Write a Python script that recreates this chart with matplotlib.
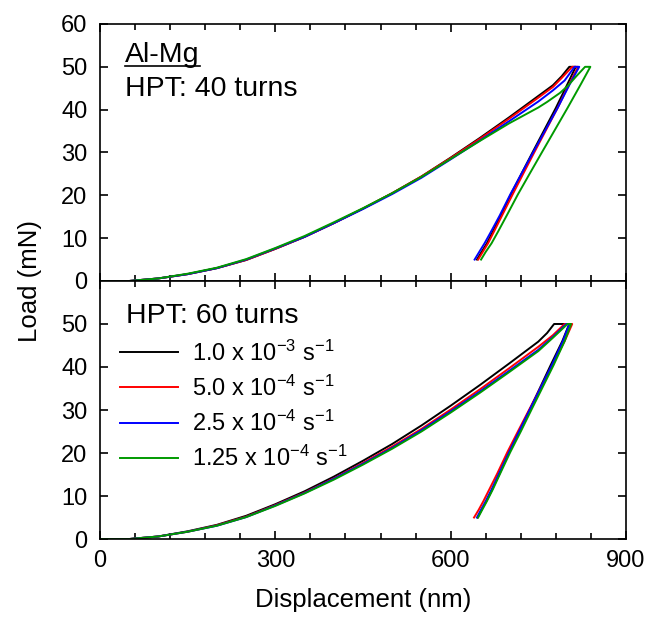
import matplotlib
matplotlib.use('Agg')
import matplotlib.pyplot as plt
import matplotlib.ticker as ticker

plt.rcParams['font.family'] = ['Liberation Sans', 'DejaVu Sans']
plt.rcParams['mathtext.fontset'] = 'custom'
plt.rcParams['mathtext.rm'] = 'Liberation Sans'
plt.rcParams['mathtext.it'] = 'Liberation Sans'

# strain rates and line colours for the four tests
rates = ['1.0 x 10$^{-3}$ s$^{-1}$', '5.0 x 10$^{-4}$ s$^{-1}$',
         '2.5 x 10$^{-4}$ s$^{-1}$', '1.25 x 10$^{-4}$ s$^{-1}$']
colors = ['black', 'red', 'blue', '#009a00']

# loading part, common depth grid (nm)
h_load = [0, 50, 100, 150, 200, 250, 300, 350, 400, 450, 500, 550, 600, 650, 700, 750]
# unloading part: load levels (mN), from the end of unloading up to the peak
p_unload = [5, 6.8, 8.8, 11.5, 15.3, 20.2, 25.0, 30.0, 35.2, 40.4, 46.0, 50]

# ---- HPT 40 turns ----
p40_black = [0, 0, 0.6, 1.6, 3.0, 4.9, 7.5, 10.3, 13.5, 16.9, 20.5, 24.4, 28.8, 33.4, 38.2, 43.2]
h40_black_top = [775, 790, 803, 814]
p40_black_top = [45.7, 47.8, 50, 50]
h40_black_un = [645, 653, 662, 672, 686, 703, 721, 740, 760, 780, 800, 814]

p40_red = [0, 0, 0.6, 1.6, 3.0, 4.9, 7.5, 10.3, 13.5, 16.9, 20.5, 24.4, 28.7, 33.2, 37.9, 42.8]
h40_red_top = [775, 790, 808, 818]
p40_red_top = [45.3, 47.4, 50, 50]
h40_red_un = [647, 655, 664, 674, 688, 706, 724, 743, 763, 783, 803, 818]

p40_blue = [0, 0, 0.6, 1.6, 3.0, 5.0, 7.6, 10.3, 13.5, 16.8, 20.3, 24.1, 28.4, 32.8, 37.3, 41.9]
h40_blue_top = [775, 795, 812, 820]
p40_blue_top = [44.5, 46.8, 50, 50]
h40_blue_un = [641, 649, 658, 669, 684, 702, 721, 741, 762, 783, 804, 820]

p40_green = [0, 0, 0.6, 1.7, 3.1, 5.1, 7.7, 10.5, 13.7, 17.0, 20.5, 24.3, 28.5, 32.7, 36.8, 40.5]
h40_green_top = [765, 787, 800, 815, 830, 839]
p40_green_top = [41.8, 43.9, 45.5, 47.8, 50, 50]
h40_green_un = [652, 660, 670, 681, 696, 715, 735, 756, 778, 800, 823, 839]

# ---- HPT 60 turns ----
p60_black = [0, 0, 0.6, 1.8, 3.3, 5.4, 8.1, 11.1, 14.5, 18.2, 22.1, 26.4, 31.0, 35.8, 40.8, 45.9]
h60_black_top = [765, 777, 803]
p60_black_top = [47.9, 50, 50]
h60_black_un = [646, 653, 661, 671, 684, 700, 717, 735, 753, 771, 791, 803]

p60_red = [0, 0, 0.6, 1.7, 3.2, 5.2, 7.9, 10.8, 14.1, 17.7, 21.5, 25.6, 30.1, 34.8, 39.7, 44.7]
h60_red_top = [775, 795, 808]
p60_red_top = [47.4, 50, 50]
h60_red_un = [640, 648, 656, 666, 680, 697, 715, 734, 754, 774, 795, 808]

p60_blue = [0, 0, 0.6, 1.7, 3.1, 5.1, 7.8, 10.7, 14.0, 17.5, 21.2, 25.3, 29.7, 34.3, 39.1, 44.0]
h60_blue_top = [775, 798, 803]
p60_blue_top = [47.0, 50, 50]
h60_blue_un = [645, 652, 660, 670, 683, 700, 717, 735, 754, 773, 792, 803]

p60_green = [0, 0, 0.6, 1.7, 3.1, 5.1, 7.7, 10.6, 13.8, 17.3, 21.0, 25.0, 29.4, 34.0, 38.8, 43.7]
h60_green_top = [775, 800, 806]
p60_green_top = [46.8, 50, 50]
h60_green_un = [647, 654, 662, 672, 685, 702, 720, 738, 757, 776, 795, 806]

curves40 = [(p40_black, h40_black_top, p40_black_top, h40_black_un),
            (p40_red, h40_red_top, p40_red_top, h40_red_un),
            (p40_blue, h40_blue_top, p40_blue_top, h40_blue_un),
            (p40_green, h40_green_top, p40_green_top, h40_green_un)]
curves60 = [(p60_black, h60_black_top, p60_black_top, h60_black_un),
            (p60_red, h60_red_top, p60_red_top, h60_red_un),
            (p60_blue, h60_blue_top, p60_blue_top, h60_blue_un),
            (p60_green, h60_green_top, p60_green_top, h60_green_un)]

fig = plt.figure(figsize=(6.47, 6.2), dpi=100)
ax1 = fig.add_axes([0.1546, 0.5468, 0.8129, 0.4145])
ax2 = fig.add_axes([0.1546, 0.1306, 0.8129, 0.4162])

for ax, curves in [(ax1, curves40), (ax2, curves60)]:
    for (p, h_top, p_top, h_un), c, lab in zip(curves, colors, rates):
        # loading -> hold at peak -> unloading
        h = h_load + h_top + h_un[::-1]
        pp = p + p_top + p_unload[::-1]
        ax.plot(h, pp, color=c, lw=1.4, label=lab)
    ax.set_xlim(0, 900)
    ax.set_ylim(0, 60)
    ax.xaxis.set_major_locator(ticker.MultipleLocator(300))
    ax.xaxis.set_minor_locator(ticker.MultipleLocator(60))
    ax.yaxis.set_major_locator(ticker.MultipleLocator(10))
    ax.tick_params(which='both', direction='in', top=True, right=True, width=1.2)
    ax.tick_params(which='major', length=6, labelsize=17)
    ax.tick_params(which='minor', length=4)
    ax.tick_params(axis='y', pad=9)
    ax.tick_params(axis='x', pad=8)
    for s in ax.spines.values():
        s.set_linewidth(1.2)

ax1.tick_params(labelbottom=False)
ax2.set_yticks([0, 10, 20, 30, 40, 50])

ax1.text(0.047, 0.852, 'Al-Mg', transform=ax1.transAxes, fontsize=20.5,
         va='baseline', ha='left')
ax1.plot([0.047, 0.19], [0.835, 0.835], transform=ax1.transAxes, color='black', lw=1.2)
ax1.text(0.047, 0.72, 'HPT: 40 turns', transform=ax1.transAxes, fontsize=20.5,
         va='baseline', ha='left')
ax2.text(0.049, 0.837, 'HPT: 60 turns', transform=ax2.transAxes, fontsize=20.5,
         va='baseline', ha='left')

ax2.legend(loc='upper left', bbox_to_anchor=(0.038, 0.77), frameon=False,
           fontsize=17, handlelength=2.45, handletextpad=0.6, labelspacing=0.42,
           borderpad=0, borderaxespad=0)

fig.text(0.046, 0.547, 'Load (mN)', rotation=90, fontsize=18.5, ha='center', va='center')
fig.text(0.561, 0.032, 'Displacement (nm)', fontsize=18.5, ha='center', va='center')

plt.savefig('out.png', dpi=100)
